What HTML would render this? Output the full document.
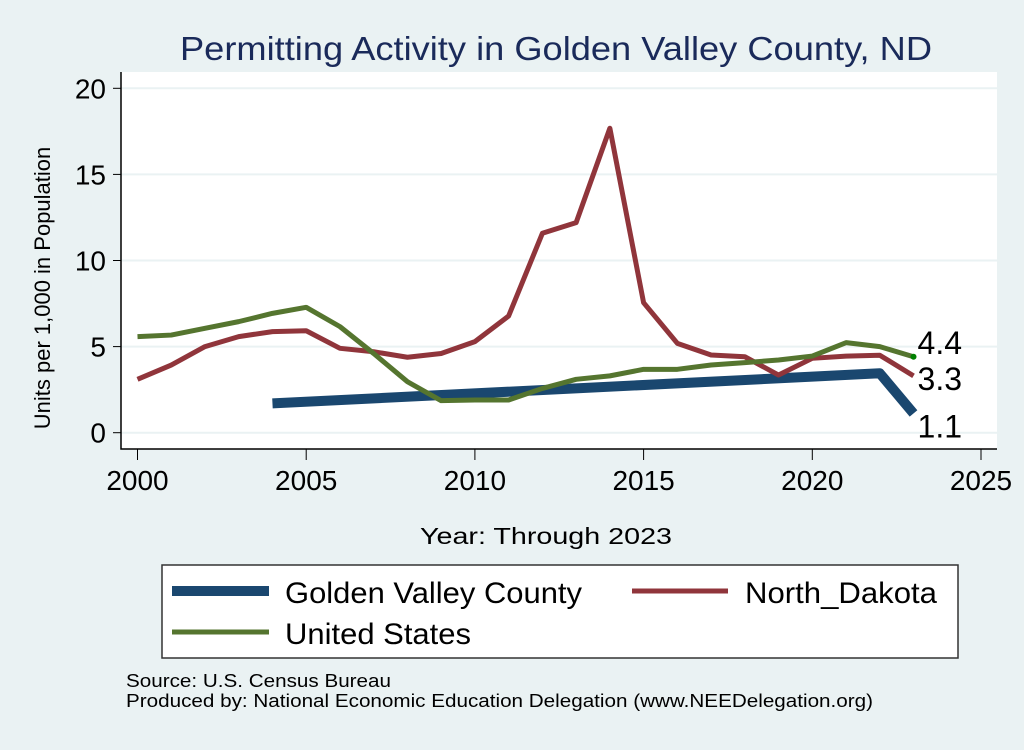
<!DOCTYPE html>
<html><head><meta charset="utf-8"><style>
body{margin:0;width:1024px;height:745px;background:#eaf2f3;overflow:hidden;font-family:"Liberation Sans",sans-serif}
</style></head><body>
<svg id="chart" width="1024" height="745" xmlns="http://www.w3.org/2000/svg" font-family="Liberation Sans, sans-serif">
<rect x="0" y="0" width="1024" height="745" fill="#eaf2f3"/>
<text x="180" y="60" font-size="33" textLength="752" lengthAdjust="spacingAndGlyphs" fill="#1a2a5a">Permitting Activity in Golden Valley County, ND</text>
<rect x="121" y="72" width="876" height="377" fill="#fff"/>
<g id="grid"></g><g id="axes"></g><g id="series"></g>
<text x="420" y="544" font-size="23" textLength="252" lengthAdjust="spacingAndGlyphs" fill="#000">Year: Through 2023</text>
<text transform="translate(50,288) rotate(-90)" text-anchor="middle" font-size="22" fill="#000">Units per 1,000 in Population</text>
<rect x="162" y="565" width="796" height="93" fill="#fff" stroke="#333" stroke-width="1.5"/>
<g><line x1="172" y1="591" x2="269" y2="591" stroke="#1a476f" stroke-width="10"/><text x="285" y="603" font-size="30" textLength="297" lengthAdjust="spacingAndGlyphs">Golden Valley County</text></g>
<g><line x1="632" y1="591" x2="728" y2="591" stroke="#90353b" stroke-width="5"/><text x="745" y="603" font-size="30" textLength="192" lengthAdjust="spacingAndGlyphs">North_Dakota</text></g>
<g><line x1="172" y1="632" x2="269" y2="632" stroke="#55752f" stroke-width="5"/><text x="285" y="644" font-size="30" textLength="186" lengthAdjust="spacingAndGlyphs">United States</text></g>
<text x="126" y="687" font-size="18" textLength="265" lengthAdjust="spacingAndGlyphs">Source: U.S. Census Bureau</text>
<text x="126" y="707" font-size="18" textLength="747" lengthAdjust="spacingAndGlyphs">Produced by: National Economic Education Delegation (www.NEEDelegation.org)</text>
</svg>
<script>
const years=[2000,2001,2002,2003,2004,2005,2006,2007,2008,2009,2010,2011,2012,2013,2014,2015,2016,2017,2018,2019,2020,2021,2022,2023];
const usValues=[5.58,5.67,6.06,6.45,6.93,7.28,6.16,4.6,2.96,1.86,1.9,1.9,2.57,3.1,3.3,3.68,3.68,3.93,4.07,4.22,4.45,5.23,5.0,4.41];
const ndValues=[3.1,3.93,5.0,5.58,5.87,5.92,4.9,4.7,4.38,4.6,5.29,6.78,11.58,12.2,17.68,7.55,5.19,4.51,4.41,3.35,4.32,4.45,4.5,3.3];
const gvYears=[2004,2022,2023];
const gvValues=[1.7,3.45,1.12];
const xTicks=[2000,2005,2010,2015,2020,2025];
const yTicks=[0,5,10,15,20];
const endLabels=["4.4","3.3","1.1"];
const NS="http://www.w3.org/2000/svg";
const X=v=>137.5+(v-2000)*33.74;
const Y=v=>432.7-v*17.22;
function mk(t,a,p){const e=document.createElementNS(NS,t);for(const k in a)e.setAttribute(k,a[k]);p.appendChild(e);return e;}
const grid=document.getElementById('grid'),axes=document.getElementById('axes'),ser=document.getElementById('series');
yTicks.forEach(t=>{
 const g=mk('line',{x1:121,x2:997,y1:Y(t),y2:Y(t),stroke:'#eaf2f3','stroke-width':2},grid);
 
 
 const k=mk('line',{x1:113,x2:121,y1:Y(t),y2:Y(t),stroke:'#000'},axes);
 
 
 const l=mk('text',{x:106,y:Y(t)+10,'text-anchor':'end','font-size':28},axes);l.textContent=t;
 
 
});
xTicks.forEach(t=>{
 const k=mk('line',{x1:X(t),x2:X(t),y1:449,y2:460,stroke:'#000'},axes);
 
 
 const l=mk('text',{x:X(t),y:490,'text-anchor':'middle','font-size':28},axes);l.textContent=t;
 
 
});
const ax=mk('path',{d:'M121,72 V449 H997',fill:'none',stroke:'#000','stroke-width':1.5},axes);


function line(xs,vs,col,w,name){
 const p=mk('polyline',{points:xs.map((x,i)=>X(x)+','+Y(vs[i])).join(' '),fill:'none',stroke:col,'stroke-width':w,'stroke-linejoin':'round'},ser);
 
 
}
line(gvYears,gvValues,'#1a476f',10,'golden-valley-line');
line(years,ndValues,'#90353b',5,'north-dakota-line');
line(years,usValues,'#55752f',5,'united-states-line');
const dot=mk('circle',{cx:X(2023),cy:Y(usValues[23]),r:3,fill:'#008000'},ser);


[[usValues[23],endLabels[0],-3],[ndValues[23],endLabels[1],14],[gvValues[2],endLabels[2],24]].forEach((d,i)=>{
 const t=mk('text',{x:X(2023)+4,y:Y(d[0])+d[2],'font-size':32},ser);t.textContent=d[1];
 
 
});
</script>
</body></html>
